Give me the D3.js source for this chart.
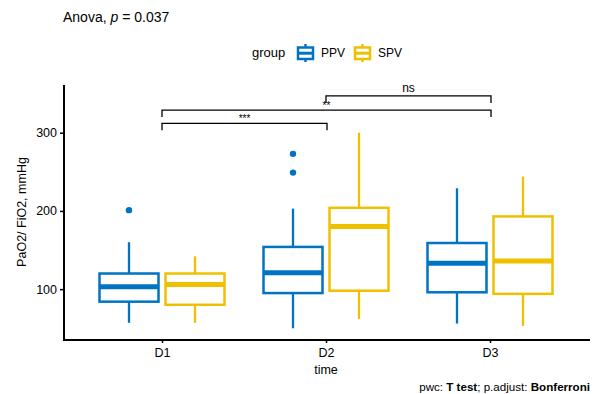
<!DOCTYPE html>
<html><head><meta charset="utf-8">
<script src="https://cdn.jsdelivr.net/npm/d3@7"></script>
<style>body{margin:0;background:#fff}svg{display:block;font-family:"Liberation Sans",Arial,sans-serif}</style>
</head><body><div id="c"></div>
<script>
const times = ["D1","D2","D3"];
const groups = ["PPV","SPV"];
const colors = ["#0073C2","#EFC000"];
// [whiskerLow, q1, median, q3, whiskerHigh]
const ppvStats = [[57,84,103,120,160],[50,95,121,154,203],[56,96,133,159,229]];
const spvStats = [[57,80,106,120,142],[62,98,180,204,300],[53,94,136,193,244]];
const ppvOutliers = [[201],[273,249],[]];
const spvOutliers = [[],[],[]];
const yTicks = [100,200,300];
const brackets = [
  {from:"D1", to:"D2", label:"***", level:0},
  {from:"D1", to:"D3", label:"**", level:1},
  {from:"D2", to:"D3", label:"ns", level:2}
];
const bracketY = [312,329,347];

const W=597,H=394;
const svg=d3.select("#c").append("svg").attr("width",W).attr("height",H);
const x=d3.scalePoint().domain(times).range([162,490]);
const y=d3.scaleLinear().domain([35,361]).range([340,85]);
const off=33, bw=59;

// title
svg.append("text").attr("x",63).attr("y",22).attr("font-size",14).attr("fill","#000")
  .html('Anova, <tspan font-style="italic">p</tspan> = 0.037');

// legend
const lg=svg.append("g");
lg.append("text").attr("x",252).attr("y",57).attr("font-size",13).text("group");
groups.forEach((g,i)=>{
  const lx=[297,354][i];
  const k=lg.append("g");
  k.append("rect").attr("x",lx+1).attr("y",47.5).attr("width",15).attr("height",11.5).attr("fill","#fff").attr("stroke",colors[i]).attr("stroke-width",2.5);
  k.append("line").attr("x1",lx).attr("x2",lx+17).attr("y1",53.2).attr("y2",53.2).attr("stroke",colors[i]).attr("stroke-width",3);
  k.append("line").attr("x1",lx+8.5).attr("x2",lx+8.5).attr("y1",44).attr("y2",47.5).attr("stroke",colors[i]).attr("stroke-width",2.5);
  k.append("line").attr("x1",lx+8.5).attr("x2",lx+8.5).attr("y1",59).attr("y2",62).attr("stroke",colors[i]).attr("stroke-width",2.5);
  lg.append("text").attr("x",lx+24).attr("y",57).attr("font-size",12).text(g);
});

// axes
const yAxis=svg.append("g").attr("transform","translate(64,0)")
  .call(d3.axisLeft(y).tickValues(yTicks).tickSize(4).tickPadding(3));
yAxis.select(".domain").remove();
yAxis.selectAll(".tick line").attr("stroke","#000").attr("stroke-width",1.5);
yAxis.selectAll("text").attr("font-size",12.5).attr("fill","#000").attr("font-family","Liberation Sans, Arial");
const xAxis=svg.append("g").attr("transform","translate(0,340)")
  .call(d3.axisBottom(x).tickSize(3).tickPadding(5));
xAxis.select(".domain").remove();
xAxis.selectAll(".tick line").attr("stroke","#000").attr("stroke-width",1.5);
xAxis.selectAll("text").attr("font-size",12.5).attr("fill","#000").attr("font-family","Liberation Sans, Arial");
svg.append("line").attr("x1",64).attr("x2",64).attr("y1",85).attr("y2",341).attr("stroke","#000").attr("stroke-width",2);
svg.append("line").attr("x1",63).attr("x2",590).attr("y1",340).attr("y2",340).attr("stroke","#000").attr("stroke-width",2);

svg.append("text").attr("x",326).attr("y",374).attr("text-anchor","middle").attr("font-size",12.5).text("time");
svg.append("text").attr("transform","translate(26,212) rotate(-90)").attr("text-anchor","middle").attr("font-size",12.5).text("PaO2/ FiO2, mmHg");

// boxes
const allStats=[ppvStats,spvStats], allOut=[ppvOutliers,spvOutliers];
groups.forEach((g,gi)=>{
  times.forEach((t,ti)=>{
    const s=allStats[gi][ti];
    const cx=x(t)+(gi===0?-off:off);
    const c=colors[gi];
    const gg=svg.append("g");
    gg.append("line").attr("x1",cx).attr("x2",cx).attr("y1",y(s[0])).attr("y2",y(s[1])).attr("stroke",c).attr("stroke-width",2.3);
    gg.append("line").attr("x1",cx).attr("x2",cx).attr("y1",y(s[3])).attr("y2",y(s[4])).attr("stroke",c).attr("stroke-width",2.3);
    gg.append("rect").attr("x",cx-bw/2).attr("y",y(s[3])).attr("width",bw).attr("height",y(s[1])-y(s[3]))
      .attr("fill","#fff").attr("stroke",c).attr("stroke-width",2.5);
    gg.append("line").attr("x1",cx-bw/2).attr("x2",cx+bw/2).attr("y1",y(s[2])).attr("y2",y(s[2])).attr("stroke",c).attr("stroke-width",5);
    allOut[gi][ti].forEach(o=>{
      gg.append("circle").attr("cx",cx).attr("cy",y(o)).attr("r",3.2).attr("fill",c);
    });
  });
});

// brackets
brackets.forEach(b=>{
  const by=y(bracketY[b.level]);
  const x1=x(b.from), x2=x(b.to)+1;
  svg.append("path").attr("d",`M${x1},${by+7}V${by}H${x2}V${by+7}`).attr("fill","none").attr("stroke","#000").attr("stroke-width",1.3);
  const isStar=b.label.indexOf("*")>=0;
  svg.append("text").attr("x",(x1+x2)/2).attr("y",isStar?by-1:by-4).attr("text-anchor","middle")
    .attr("font-size",isStar?10:12).text(b.label);
});

// caption
svg.append("text").attr("x",590).attr("y",391).attr("text-anchor","end").attr("font-size",11.6)
  .html('pwc: <tspan font-weight="bold">T test</tspan>; p.adjust: <tspan font-weight="bold">Bonferroni</tspan>');
</script></body></html>
